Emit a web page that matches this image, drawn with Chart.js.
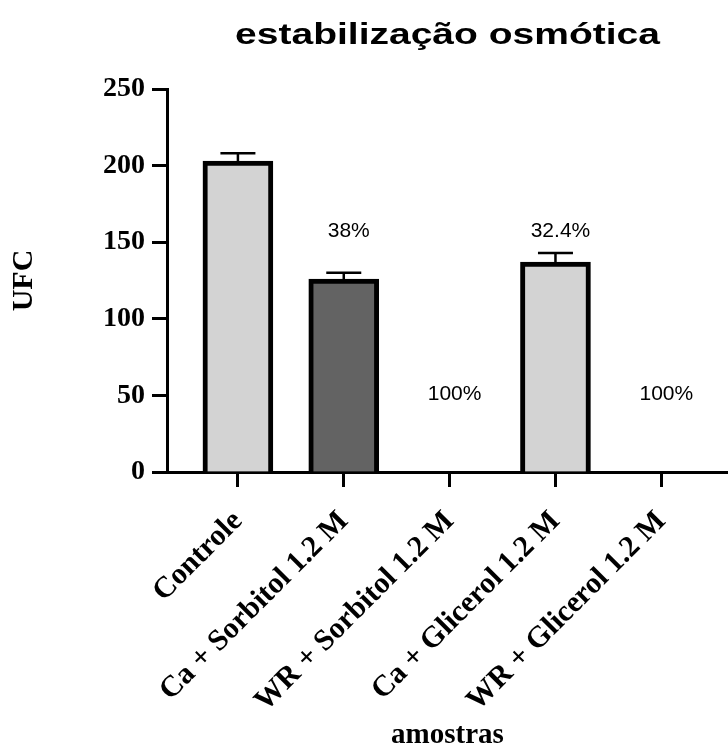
<!DOCTYPE html>
<html>
<head>
<meta charset="utf-8">
<script src="https://cdn.jsdelivr.net/npm/chart.js@4/dist/chart.umd.min.js"></script>
<style>
  body { margin: 0; background: #fff; }
  #wrap { width: 728px; height: 747px; position: relative; }
</style>
</head>
<body>
<div id="wrap"><canvas id="chart"></canvas></div>
<script>
// dados
const categorias = ['Controle', 'Ca + Sorbitol 1.2 M', 'WR + Sorbitol 1.2 M', 'Ca + Glicerol 1.2 M', 'WR + Glicerol 1.2 M'];
const ufc = [203, 126, 0, 137, 0];
const erro = [5, 4, 0, 6, 0];
const cores = ['#d3d3d3', '#636363', '#d3d3d3', '#d3d3d3', '#d3d3d3'];
const rotulos = ['', '38%', '100%', '32.4%', '100%'];
const rotuloY = [0, 157, 51, 157, 51];
const yTicks = [0, 50, 100, 150, 200, 250];
const titulo = 'estabilização osmótica';

const serif = "'Liberation Serif', 'Times New Roman', serif";
const sans = "'Liberation Sans', Arial, sans-serif";

// título (a fonte do original é esticada na horizontal), barras de erro e percentagens
const extras = {
    id: 'extras',
    afterDatasetsDraw(chart) {
        const ctx = chart.ctx;
        const xs = chart.scales.x;
        const ys = chart.scales.y;
        const area = chart.chartArea;
        ctx.save();
        ctx.strokeStyle = '#000';
        ctx.lineWidth = 2.5;
        ufc.forEach(function (v, i) {
            if (!erro[i]) return;
            var x = xs.getPixelForValue(i);
            var y0 = ys.getPixelForValue(v);
            var y1 = ys.getPixelForValue(v + erro[i]);
            ctx.beginPath();
            ctx.moveTo(x, y0);
            ctx.lineTo(x, y1);
            ctx.moveTo(x - 17.5, y1);
            ctx.lineTo(x + 17.5, y1);
            ctx.stroke();
        });
        ctx.fillStyle = '#000';
        ctx.font = '21px ' + sans;
        ctx.textAlign = 'center';
        ctx.textBaseline = 'middle';
        rotulos.forEach(function (t, i) {
            if (!t) return;
            ctx.fillText(t, xs.getPixelForValue(i) + 5, ys.getPixelForValue(rotuloY[i]));
        });

        ctx.translate((area.left + area.right) / 2, 36);
        ctx.scale(1.3, 1);
        ctx.font = 'bold 30px ' + sans;
        ctx.fillText(titulo, 0, 0);
        ctx.restore();
    }
};

var canvas = document.getElementById('chart');
var config = {
    type: 'bar',
    data: {
        datasets: [{
            data: ufc.map((v, i) => ({ x: i, y: v })),
            backgroundColor: cores,
            borderColor: '#000',
            borderWidth: 5,
            barThickness: 70,
        }],
    },
    options: {
        responsive: true,
        maintainAspectRatio: false,
        animation: false,
        layout: { padding: { top: 89, left: 0, right: 0, bottom: 0 } },
        plugins: {
            legend: { display: false },
            tooltip: { enabled: false },
        },
        scales: {
            x: {
                type: 'linear',
                offset: false,
                min: -0.67,
                max: 4.63,
                afterBuildTicks: function (s) {
                    s.ticks = categorias.map((c, i) => ({ value: i }));
                },
                afterFit: function (s) { s.height = 275; },
                border: { display: true, color: '#000', width: 3 },
                grid: { offset: false, drawOnChartArea: false, drawTicks: true, tickLength: 15, tickWidth: 3, color: '#000' },
                ticks: {
                    autoSkip: false,
                    maxRotation: 45,
                    minRotation: 45,
                    padding: 17,
                    color: '#000',
                    font: { family: serif, size: 30, weight: 'bold' },
                    callback: function (value) { return categorias[value]; },
                },
                title: {
                    display: true,
                    text: 'amostras',
                    color: '#000',
                    font: { family: serif, size: 29, weight: 'bold', lineHeight: 0.8 },
                    padding: { top: 0, bottom: 0 },
                },
            },
            y: {
                min: 0,
                max: 250,
                afterBuildTicks: function (s) {
                    s.ticks = yTicks.map(v => ({ value: v }));
                },
                afterFit: function (s) { s.width = 167; },
                border: { display: true, color: '#000', width: 3 },
                grid: { drawOnChartArea: false, drawTicks: true, tickLength: 15, tickWidth: 3, color: '#000' },
                ticks: {
                    padding: 7,
                    color: '#000',
                    font: { family: serif, size: 28, weight: 'bold' },
                },
                title: {
                    display: true,
                    text: 'UFC',
                    color: '#000',
                    font: { family: serif, size: 30, weight: 'bold' },
                    padding: { top: 6, bottom: 0 },
                },
            },
        },
    },
    plugins: [extras],
};
new Chart(canvas.getContext('2d'), config);
</script>
</body>
</html>
